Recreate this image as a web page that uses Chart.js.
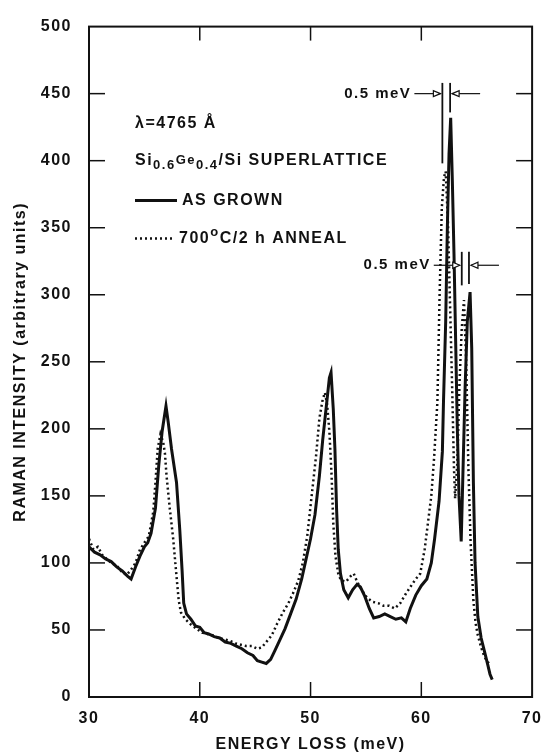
<!DOCTYPE html>
<html>
<head>
<meta charset="utf-8">
<title>Raman spectra</title>
<script src="https://cdn.jsdelivr.net/npm/chart.js@4.4.1/dist/chart.umd.min.js"></script>
<style>
  html, body { margin: 0; padding: 0; background: #fff; }
  #wrap { width: 553px; height: 756px; }
</style>
</head>
<body>
<div id="wrap"><canvas id="ramanChart" width="553" height="756"></canvas></div>
<script>
// energy loss (meV) / intensity, as grown sample
const asGrownE = [30.0, 30.5, 31.0, 31.5, 32.0, 32.5, 33.0, 33.5, 33.8, 34.2, 34.6, 35.0, 35.3, 35.6, 36.0, 36.3, 36.6, 36.95,
  37.15, 37.45, 37.9, 38.2, 38.4, 38.55, 38.8, 39.2, 39.6, 40.0, 40.4, 40.8, 41.3, 41.8, 42.3, 42.8, 43.3, 43.8, 44.3, 44.8,
  45.2, 45.6, 46.0, 46.4, 46.8, 47.2, 47.7, 48.2, 48.7, 49.2, 49.6, 50.0, 50.4, 50.8, 51.1, 51.4, 51.7, 51.85, 52.05, 52.2,
  52.35, 52.5, 52.7, 53.0, 53.4, 53.8, 54.2, 54.5, 54.9, 55.3, 55.7, 56.2, 56.7, 57.2, 57.7, 58.2, 58.6, 59.0, 59.5, 60.0,
  60.5, 60.9, 61.2, 61.6, 61.9, 62.0, 62.2, 62.35, 62.5, 62.65, 62.8, 62.95, 63.1, 63.25, 63.4, 63.6, 63.75, 63.95, 64.15,
  64.4, 64.55, 64.7, 64.85, 65.1, 65.4, 65.7, 66.0, 66.2, 66.4];
const asGrownI = [112, 108, 106, 103, 101, 97, 94, 90, 88, 97, 105, 112, 115, 122, 141, 173, 198, 217,
  205, 185, 160, 124, 95, 70, 62, 58, 53, 52, 48, 47, 45, 44, 41, 40, 38, 36, 33, 31,
  27, 26, 25, 28, 35, 42, 51, 62, 73, 88, 103, 118, 136, 165, 192, 215, 238, 242, 215, 185,
  140, 110, 92, 80, 74, 80, 84, 82, 75, 66, 59, 60, 62, 60, 58, 59, 56, 66, 76, 83,
  88, 100, 118, 146, 183, 220, 280, 350, 405, 432, 385, 330, 265, 200, 150, 116, 165, 230, 280,
  302, 260, 160, 100, 60, 44, 34, 24, 17, 13];

// 700 C / 2 h anneal
const annealE = [30.0, 30.4, 30.8, 31.2, 31.6, 32.0, 32.5, 33.0, 33.4, 33.8, 34.2, 34.6, 35.0, 35.4, 35.8, 36.0, 36.2, 36.45,
  36.7, 36.85, 37.0, 37.3, 37.6, 37.9, 38.1, 38.3, 38.7, 39.2, 39.7, 40.2, 40.7, 41.2, 41.7, 42.2, 42.7, 43.2, 43.7, 44.2,
  44.7, 45.2, 45.6, 46.0, 46.5, 47.0, 47.5, 48.0, 48.4, 48.9, 49.3, 49.7, 50.1, 50.5, 50.8, 51.1, 51.3, 51.5, 51.7, 51.9,
  52.05, 52.25, 52.5, 52.75, 53.2, 53.6, 53.9, 54.2, 54.6, 55.1, 55.6, 56.1, 56.6, 57.1, 57.6, 58.1, 58.6, 59.0, 59.5, 59.9,
  60.3, 60.6, 60.9, 61.15, 61.45, 61.65, 61.85, 62.05, 62.2, 62.4, 62.6, 62.8, 62.95, 63.05, 63.25, 63.45, 63.65, 63.85,
  64.05, 64.25, 64.45, 64.7, 64.9, 65.1, 65.4, 65.7, 66.0, 66.3];
const annealI = [118, 110, 112, 106, 103, 100, 98, 93, 91, 95, 100, 110, 115, 120, 138, 160, 185, 196,
  190, 182, 165, 140, 118, 90, 72, 63, 58, 54, 51, 48, 47, 46, 44, 43, 42, 40, 39, 38,
  38, 36, 37, 41, 46, 55, 63, 70, 77, 87, 100, 120, 150, 180, 208, 222, 227, 218, 198, 165,
  130, 105, 92, 87, 86, 90, 92, 86, 80, 74, 71, 70, 68, 68, 66, 70, 77, 82, 88, 92,
  110, 130, 150, 178, 220, 300, 365, 388, 392, 355, 290, 225, 170, 148, 175, 235, 275, 296,
  250, 170, 115, 72, 55, 46, 37, 30, 26, 24];

const xTicks = [30, 40, 50, 60, 70];
const yTicks = [0, 50, 100, 150, 200, 250, 300, 350, 400, 450, 500];

document.addEventListener('DOMContentLoaded', function() {
    const ink = '#111';
    const family = '"Liberation Sans", Arial, sans-serif';

    const toPoints = (xs, ys) => xs.map((x, i) => ({ x: x, y: ys[i] }));

    // text with sub/superscript parts, returns end x
    function drawRuns(ctx, x, y, runs) {
        runs.forEach(r => {
            ctx.font = 'bold ' + (r.small ? '13px ' : '16px ') + family;
            const dy = r.sub ? 5 : (r.sup ? -6 : 0);
            ctx.fillText(r.t, x, y + dy);
            x += ctx.measureText(r.t).width;
        });
        return x;
    }

    function line(ctx, x1, y1, x2, y2) {
        ctx.beginPath();
        ctx.moveTo(x1, y1);
        ctx.lineTo(x2, y2);
        ctx.stroke();
    }

    function arrowHead(ctx, x, y, dir) {
        ctx.beginPath();
        ctx.moveTo(x, y);
        ctx.lineTo(x - dir * 7, y - 3);
        ctx.lineTo(x - dir * 7, y + 3);
        ctx.closePath();
        ctx.fillStyle = '#fff';
        ctx.fill();
        ctx.stroke();
        ctx.fillStyle = ink;
    }

    // two vertical markers with arrows pointing at the gap
    function shiftMark(ctx, xs, ys, e1, e2, yTop, yBottom, yArrow) {
        const p1 = xs.getPixelForValue(e1);
        const p2 = xs.getPixelForValue(e2);
        const top = ys.getPixelForValue(yTop);
        const ya = ys.getPixelForValue(yArrow);
        ctx.lineWidth = 1.8;
        line(ctx, p1, top, p1, ys.getPixelForValue(yBottom[0]));
        line(ctx, p2, top, p2, ys.getPixelForValue(yBottom[1]));
        ctx.lineWidth = 1.2;
        line(ctx, p1 - 28, ya, p1 - 2, ya);
        arrowHead(ctx, p1 - 2, ya, 1);
        line(ctx, p2 + 30, ya, p2 + 2, ya);
        arrowHead(ctx, p2 + 2, ya, -1);
        ctx.textAlign = 'right';
        ctx.textBaseline = 'middle';
        ctx.font = 'bold 15px ' + family;
        ctx.fillText('0.5 meV', p1 - 31, ya);
    }

    const frameAndNotes = {
        id: 'frameAndNotes',
        beforeDraw(chart) {
            chart.ctx.letterSpacing = '1.5px';
        },
        afterDraw(chart) {
            const { ctx, chartArea: a, scales: { x, y } } = chart;
            ctx.save();
            ctx.strokeStyle = ink;
            ctx.fillStyle = ink;

            // box
            ctx.lineWidth = 2;
            ctx.strokeRect(a.left, a.top, a.width, a.height);

            // inward ticks on all four sides
            ctx.lineWidth = 1.5;
            yTicks.slice(1, -1).forEach(v => {
                const py = y.getPixelForValue(v);
                line(ctx, a.left, py, a.left + 16, py);
                line(ctx, a.right - 16, py, a.right, py);
            });
            xTicks.slice(1, -1).forEach(v => {
                const px = x.getPixelForValue(v);
                line(ctx, px, a.bottom, px, a.bottom - 15);
                line(ctx, px, a.top, px, a.top + 14);
            });

            // legend block
            const lx = a.left + 46;
            ctx.textAlign = 'left';
            ctx.textBaseline = 'middle';
            drawRuns(ctx, lx, a.top + 97, [{ t: 'λ=4765 Å' }]);
            drawRuns(ctx, lx, a.top + 134, [
                { t: 'Si' }, { t: '0.6', small: true, sub: true },
                { t: 'Ge', small: true }, { t: '0.4', small: true, sub: true },
                { t: '/Si SUPERLATTICE' }
            ]);

            const ds = chart.data.datasets;
            ctx.lineWidth = ds[0].borderWidth;
            line(ctx, lx, a.top + 174, lx + 42, a.top + 174);
            drawRuns(ctx, lx + 47, a.top + 174, [{ t: ds[0].label }]);

            ctx.lineWidth = ds[1].borderWidth;
            ctx.setLineDash(ds[1].borderDash);
            line(ctx, lx, a.top + 212, lx + 38, a.top + 212);
            ctx.setLineDash([]);
            drawRuns(ctx, lx + 44, a.top + 212, [
                { t: '700' }, { t: 'o', small: true, sup: true }, { t: 'C/2 h ANNEAL' }
            ]);

            // peak shift markers
            shiftMark(ctx, x, y, 61.9, 62.6, 458, [398, 436], 450);
            shiftMark(ctx, x, y, 63.65, 64.3, 332, [307, 308], 322);

            ctx.restore();
            ctx.letterSpacing = '0px';
        }
    };

    const ctx = document.getElementById('ramanChart').getContext('2d');

    new Chart(ctx, {
        type: 'line',
        data: {
            datasets: [{
                label: 'AS GROWN',
                data: toPoints(asGrownE, asGrownI),
                borderColor: ink,
                borderWidth: 3,
                pointRadius: 0,
                tension: 0,
                fill: false
            }, {
                label: '700°C/2 h ANNEAL',
                data: toPoints(annealE, annealI),
                borderColor: ink,
                borderWidth: 2.5,
                borderDash: [2, 3],
                pointRadius: 0,
                tension: 0,
                fill: false
            }]
        },
        options: {
            responsive: false,
            animation: false,
            layout: { padding: { top: 21, right: 11, left: 0, bottom: 0 } },
            plugins: {
                legend: { display: false },
                tooltip: { enabled: false }
            },
            scales: {
                x: {
                    type: 'linear',
                    min: 30,
                    max: 70,
                    afterBuildTicks: s => { s.ticks = xTicks.map(v => ({ value: v })); },
                    afterFit: s => { s.height = 59; },
                    grid: { display: false, drawTicks: false },
                    border: { display: false },
                    ticks: {
                        color: ink,
                        padding: 12,
                        maxRotation: 0,
                        font: { family: family, size: 16, weight: 'bold' }
                    },
                    title: {
                        display: true,
                        text: 'ENERGY LOSS (meV)',
                        color: ink,
                        padding: { top: 0, bottom: 2 },
                        font: { family: family, size: 16, weight: 'bold' }
                    }
                },
                y: {
                    min: 0,
                    max: 500,
                    afterBuildTicks: s => { s.ticks = yTicks.map(v => ({ value: v })); },
                    afterFit: s => { s.width = 89; },
                    grid: { display: false, drawTicks: false },
                    border: { display: false },
                    ticks: {
                        color: ink,
                        padding: 17,
                        font: { family: family, size: 16, weight: 'bold' }
                    },
                    title: {
                        display: true,
                        text: 'RAMAN INTENSITY (arbitrary units)',
                        color: ink,
                        padding: { top: 11, bottom: 0 },
                        font: { family: family, size: 16, weight: 'bold' }
                    }
                }
            }
        },
        plugins: [frameAndNotes]
    });
});
</script>
</body>
</html>
